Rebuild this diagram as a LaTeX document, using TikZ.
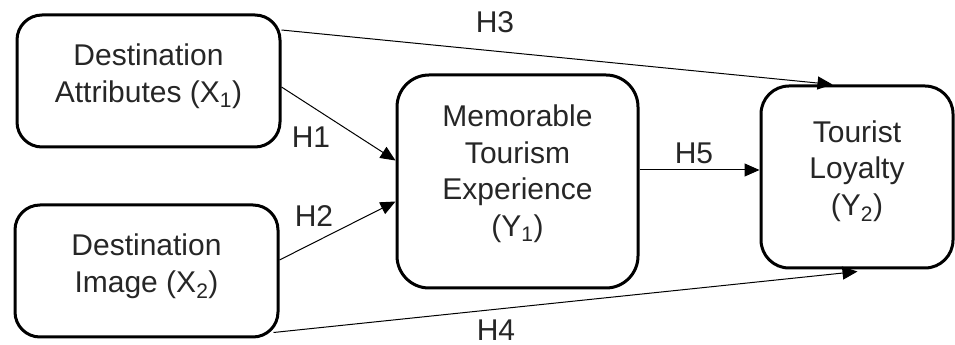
\documentclass[tikz,border=0pt]{standalone}
\usepackage{fontspec}
\setmainfont{Liberation Sans}
\usetikzlibrary{arrows.meta}
\tikzset{
  box/.style={draw=black, line width=3pt, inner sep=0pt},
  boxtext/.style={align=center, inner sep=0pt,
    font=\fontsize{30}{36.5}\selectfont, text=black!85},
  conn/.style={line width=1pt, -{Triangle[length=15pt,width=13pt]}},
  lbl/.style={font=\fontsize{30}{36}\selectfont, text=black!85, inner sep=0pt}
}
\begin{document}
\begin{tikzpicture}[x=1pt,y=1pt]
\useasboundingbox (0,0) rectangle (955,345);
\node[box, rounded corners=25pt, minimum width=263pt, minimum height=132pt] (b1) at (148.5,264) {};
\node[box, rounded corners=25pt, minimum width=263pt, minimum height=132pt] (b2) at (146.5,74) {};
\node[box, rounded corners=32pt, minimum width=241pt, minimum height=213pt] (b3) at (517.5,163.5) {};
\node[box, rounded corners=28pt, minimum width=192pt, minimum height=182pt] (b4) at (857,168) {};
\node[boxtext] (t1) at ([yshift=5pt]b1.center) {Destination\\Attributes (X\textsubscript{1})};
\node[boxtext] (t2) at ([yshift=5pt]b2.center) {Destination\\Image (X\textsubscript{2})};
\node[boxtext] (t3) at ([yshift=8pt]b3.center) {Memorable\\Tourism\\Experience\\(Y\textsubscript{1})};
\node[boxtext] (t4) at ([yshift=6pt]b4.center) {Tourist\\Loyalty\\(Y\textsubscript{2})};
% connectors
\draw[conn] ([yshift=51pt]b1.east) -- ([xshift=73pt]b4.north west);
\draw[conn] ([yshift=-6pt]b1.east) -- ([yshift=21pt]b3.west);
\draw[conn] ([yshift=11pt]b2.east) -- ([yshift=-20pt]b3.west);
\draw[conn] ([yshift=11.5pt]b3.east) -- ([yshift=7pt]b4.west);
\draw[conn] ([xshift=-6pt,yshift=6pt]b2.south east) -- ([xshift=98pt,yshift=-2pt]b4.south west);
% labels
\node[lbl] (h3) at (495,322.5) {H3};
\node[lbl] (h1) at (311,208) {H1};
\node[lbl] (h2) at (314,129) {H2};
\node[lbl] (h5) at (694,192) {H5};
\node[lbl] (h4) at (496,15) {H4};
\end{tikzpicture}
\end{document}
